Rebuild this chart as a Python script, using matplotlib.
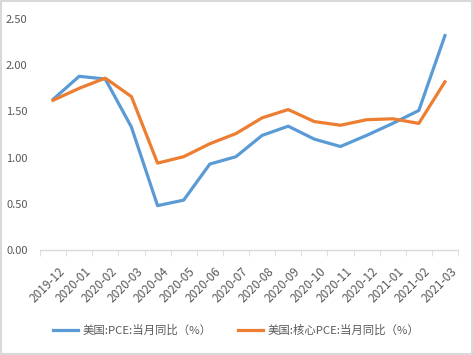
import matplotlib
matplotlib.use("Agg")
import matplotlib.pyplot as plt
from matplotlib.patches import Rectangle
from matplotlib.transforms import ScaledTranslation

plt.rcParams['font.family'] = ['Noto Sans CJK SC', 'DejaVu Sans']

months = ["2019-12", "2020-01", "2020-02", "2020-03", "2020-04", "2020-05", "2020-06",
          "2020-07", "2020-08", "2020-09", "2020-10", "2020-11", "2020-12",
          "2021-01", "2021-02", "2021-03"]
pce = [1.63, 1.88, 1.85, 1.33, 0.48, 0.54, 0.93, 1.01, 1.24, 1.34, 1.20, 1.12, 1.24, 1.37, 1.51, 2.32]
core_pce = [1.62, 1.75, 1.86, 1.66, 0.94, 1.01, 1.15, 1.26, 1.43, 1.52, 1.39, 1.35, 1.41, 1.42, 1.37, 1.82]
labels = ["美国:PCE:当月同比（%）", "美国:核心PCE:当月同比（%）"]
yticks = [0.0, 0.5, 1.0, 1.5, 2.0, 2.5]

fig = plt.figure(figsize=(4.73, 3.55), dpi=100)
ax = fig.add_axes([40/473, 1-250/355, 418/473, 231/355])
x = list(range(len(months)))
ax.plot(x, pce, color="#5B9BD5", lw=2.3, label=labels[0], solid_joinstyle='round')
ax.plot(x, core_pce, color="#ED7D31", lw=2.3, label=labels[1], solid_joinstyle='round')

ax.set_xlim(-0.5, len(months)-0.5)
ax.set_ylim(0, 2.5)
ax.set_yticks(yticks)
ax.set_yticklabels([f"{v:.2f}" for v in yticks])
ax.set_xticks(x)
ax.set_xticklabels(months, rotation=45, ha='right', rotation_mode='anchor')
ax.set_xticks([i - 0.5 for i in range(len(months)+1)], minor=True)
ax.tick_params(axis='x', which='major', length=0, pad=11, labelsize=8.5, colors='#595959')
ax.tick_params(axis='x', which='minor', length=4, color='#D9D9D9', direction='out')
ax.tick_params(axis='y', length=0, pad=9, labelsize=8, colors='#595959')
offset = ScaledTranslation(5/100, 0, fig.dpi_scale_trans)
for lab in ax.get_xticklabels():
    lab.set_transform(lab.get_transform() + offset)
for s in ['top', 'right', 'left']:
    ax.spines[s].set_visible(False)
ax.spines['bottom'].set_color('#D9D9D9')
ax.spines['bottom'].set_linewidth(1)

leg = fig.legend(loc='center', bbox_to_anchor=(0.5, 1-330/355), ncol=2, frameon=False,
                 fontsize=8.2, handlelength=2.2, columnspacing=2.3, handletextpad=0.4)
for t in leg.get_texts():
    t.set_color('#595959')

fig.patches.append(Rectangle((0.002, 0.003), 0.996, 0.994, transform=fig.transFigure,
                             fill=False, edgecolor='#D9D9D9', lw=1.5))
fig.savefig("out.png", dpi=100)
